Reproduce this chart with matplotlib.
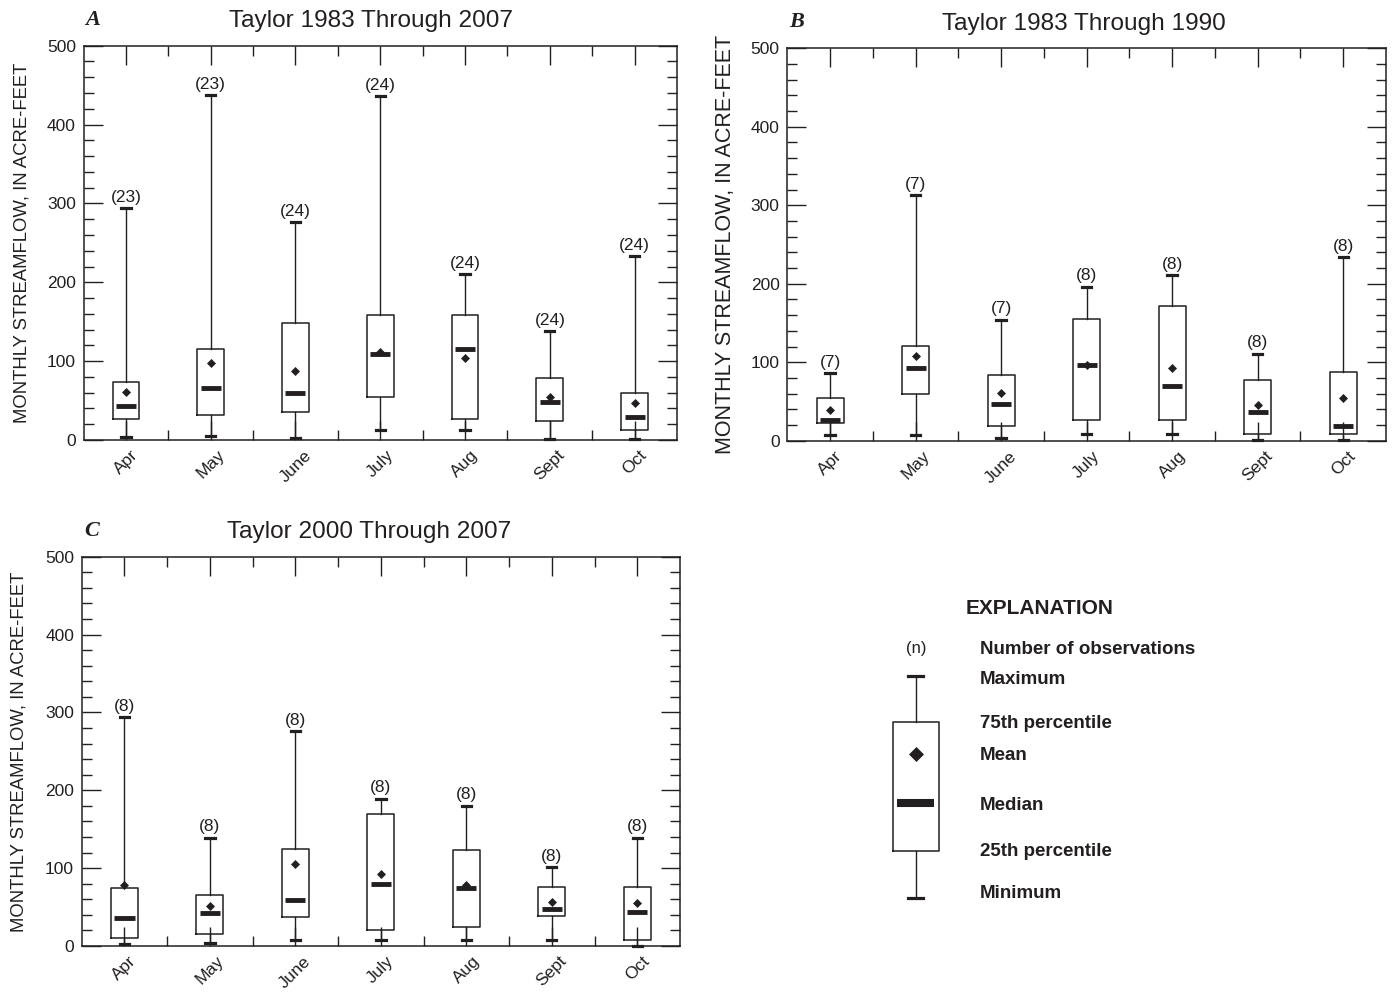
import numpy as np
import matplotlib
matplotlib.use('Agg')
import matplotlib.pyplot as plt

plt.rcParams['font.family'] = ['Liberation Sans', 'DejaVu Sans']

INK = '#231f20'

months = ['Apr', 'May', 'June', 'July', 'Aug', 'Sept', 'Oct']

# A: 1983 through 2007
a_n = [23, 23, 24, 24, 24, 24, 24]
a_max = [294, 437, 276, 436, 210, 138, 233]
a_q3 = [74, 115, 148, 158, 158, 78, 60]
a_mean = [61, 98, 88, 112, 104, 54, 47]
a_med = [43, 66, 59, 109, 115, 48, 29]
a_q1 = [26, 32, 35, 54, 27, 24, 13]
a_min = [4, 5, 2, 13, 13, 1, 1]

# B: 1983 through 1990
b_n = [7, 7, 7, 8, 8, 8, 8]
b_max = [86, 313, 154, 196, 211, 111, 234]
b_q3 = [54, 121, 84, 155, 171, 77, 88]
b_mean = [39, 108, 61, 97, 92, 46, 55]
b_med = [27, 92, 47, 97, 70, 36, 19]
b_q1 = [22, 59, 19, 26, 26, 8, 8]
b_min = [7, 7, 4, 8, 8, 1, 1]

# C: 2000 through 2007
c_n = [8, 8, 8, 8, 8, 8, 8]
c_max = [294, 139, 276, 189, 180, 101, 139]
c_q3 = [75, 65, 124, 169, 123, 76, 76]
c_mean = [78, 51, 105, 92, 78, 57, 55]
c_med = [36, 43, 59, 79, 74, 48, 44]
c_q1 = [10, 15, 37, 21, 24, 39, 8]
c_min = [3, 4, 8, 8, 8, 8, 0]

# sample box for the explanation (units of the key axes)
key_labels = ['Maximum', '75th percentile', 'Mean', 'Median', '25th percentile', 'Minimum']
key_values = [244, 198, 166, 117, 69, 22]

YLABEL = 'MONTHLY STREAMFLOW, IN ACRE-FEET'


def draw_boxes(ax, pos, vmax, q3, mean, med, q1, vmin, width, capwidth, medwidth,
               med_lw, mean_ms):
    stats = []
    for hi, u, mu, m, lo, mn in zip(vmax, q3, mean, med, q1, vmin):
        stats.append(dict(med=m, q1=lo, q3=u, whislo=mn, whishi=hi, mean=mu, fliers=[]))
    ax.bxp(stats, positions=pos, widths=width, capwidths=capwidth,
           showmeans=True, showfliers=False, manage_ticks=False,
           boxprops=dict(color=INK, lw=1.1),
           whiskerprops=dict(color=INK, lw=1.0),
           capprops=dict(color=INK, lw=2.3, clip_on=False),
           medianprops=dict(visible=False),
           meanprops=dict(marker='D', ms=mean_ms, mfc=INK, mec=INK, mew=0.5, zorder=4))
    # thick median bar, narrower than the box
    pos = np.asarray(pos, dtype=float)
    ax.hlines(med, pos - medwidth / 2, pos + medwidth / 2, colors=INK, lw=med_lw, zorder=3)


def draw_panel(ax, letter, title, title_x, n, vmax, q3, mean, med, q1, vmin, label_size=13.3):
    pos = np.arange(1, len(months) + 1)
    draw_boxes(ax, pos, vmax, q3, mean, med, q1, vmin, 0.315, 0.11, 0.236, 3.5, 4.4)

    # number of observations above each maximum
    for x, top, count in zip(pos, vmax, n):
        ax.annotate(f'({count})', xy=(x, top), xytext=(0, 2.5), textcoords='offset points',
                    ha='center', va='bottom', fontsize=12.5, color=INK)

    ax.set_xlim(0.5, 7.5)
    ax.set_ylim(0, 500)
    ax.set_xticks(pos)
    ax.set_xticklabels(months, rotation=45, ha='center', va='top')
    ax.set_xticks(pos[:-1] + 0.5, minor=True)
    ax.set_yticks(np.arange(0, 501, 100))
    ax.set_yticks(np.arange(0, 501, 20), minor=True)
    ax.tick_params(which='both', direction='in', top=True, right=True, color=INK,
                   width=1.0, labelsize=12.5, labelcolor=INK)
    ax.tick_params(which='major', length=14, pad=5.5)
    ax.tick_params(which='minor', length=7.5)
    for s in ax.spines.values():
        s.set_linewidth(1.1)
        s.set_color(INK)

    ax.set_ylabel(YLABEL, fontsize=label_size, color=INK, va='center')
    ax.yaxis.set_label_coords(-0.104, 0.5)

    ax.annotate(letter, xy=(0, 1), xycoords='axes fraction', xytext=(1.5, 15),
                textcoords='offset points', va='baseline', ha='left', fontsize=16,
                family='Liberation Serif', weight='bold', style='italic', color=INK)
    ax.annotate(title, xy=(title_x, 1), xycoords='axes fraction', xytext=(0, 13.5),
                textcoords='offset points', va='baseline', ha='left', fontsize=17.6, color=INK)


def draw_key(ax):
    ax.set_xlim(0, 360)
    ax.set_ylim(0, 330)
    ax.axis('off')
    hi, u, mu, m, lo, mn = key_values
    draw_boxes(ax, [36], [hi], [u], [mu], [m], [lo], [mn], 45.6, 15, 37, 5.8, 7.6)
    ax.text(86, 312, 'EXPLANATION', fontsize=15, weight='bold', va='center', color=INK)
    ax.text(36, 271, '(n)', fontsize=12, ha='center', va='center', color=INK)
    ax.text(100, 271, 'Number of observations', fontsize=13.5, weight='bold', va='center', color=INK)
    offsets = [-3, -1, -1, -2, -1, 4]
    for label, v, d in zip(key_labels, key_values, offsets):
        ax.text(100, v + d, label, fontsize=13.5, weight='bold', va='center', color=INK)


def main():
    W, H = 1395, 993
    fig = plt.figure(figsize=(W / 100, H / 100), dpi=100)

    def px_axes(left, top, right, bottom):
        return fig.add_axes([left / W, 1 - bottom / H, (right - left) / W, (bottom - top) / H])

    ax_a = px_axes(83.5, 45.7, 677, 440)
    ax_b = px_axes(787.3, 48.3, 1386, 440.7)
    ax_c = px_axes(81.7, 556.7, 680, 946)
    ax_key = px_axes(880, 590, 1240, 920)

    draw_panel(ax_a, 'A', 'Taylor 1983 Through 2007', 0.245,
               a_n, a_max, a_q3, a_mean, a_med, a_q1, a_min)
    draw_panel(ax_b, 'B', 'Taylor 1983 Through 1990', 0.258,
               b_n, b_max, b_q3, b_mean, b_med, b_q1, b_min, label_size=15.5)
    draw_panel(ax_c, 'C', 'Taylor 2000 Through 2007', 0.243,
               c_n, c_max, c_q3, c_mean, c_med, c_q1, c_min)
    draw_key(ax_key)

    fig.savefig('out.png', dpi=100)


if __name__ == '__main__':
    main()
